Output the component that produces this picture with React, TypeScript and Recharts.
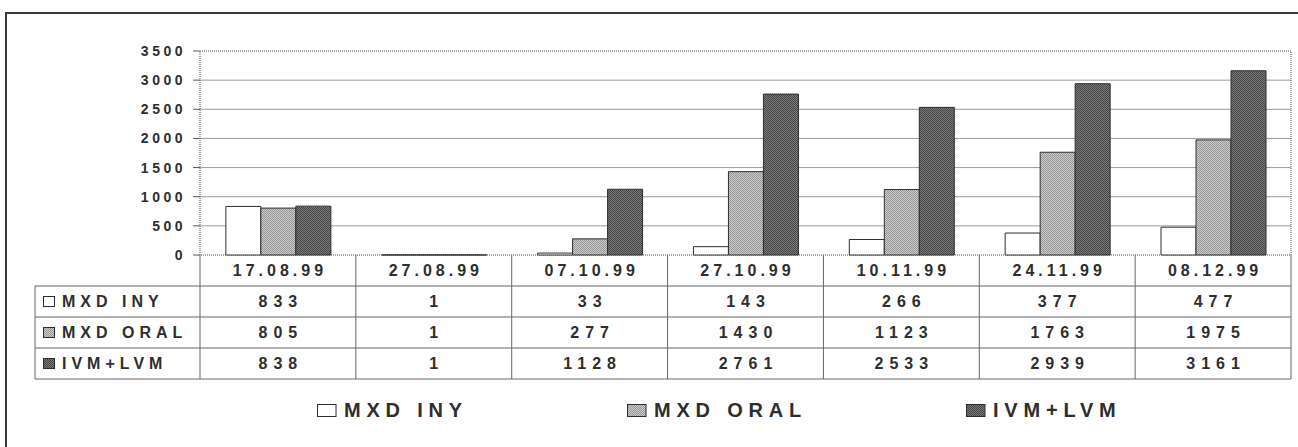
import React from 'react';
import { BarChart, Bar, XAxis, YAxis, CartesianGrid, ReferenceArea, Legend } from 'recharts';

// Survey dates and the three treatment series
const DATES = ['17.08.99', '27.08.99', '07.10.99', '27.10.99', '10.11.99', '24.11.99', '08.12.99'];
const MXD_INY = [833, 1, 33, 143, 266, 377, 477];
const MXD_ORAL = [805, 1, 277, 1430, 1123, 1763, 1975];
const IVM_LVM = [838, 1, 1128, 2761, 2533, 2939, 3161];
const Y_TICKS = [0, 500, 1000, 1500, 2000, 2500, 3000, 3500];
const GRID_VALUES = [500, 1000, 1500, 2000, 2500, 3000];

const SERIES = [
  { key: 'iny', name: 'MXD INY', values: MXD_INY, fill: '#ffffff' },
  { key: 'oral', name: 'MXD ORAL', values: MXD_ORAL, fill: 'url(#patOral)' },
  { key: 'ivm', name: 'IVM+LVM', values: IVM_LVM, fill: 'url(#patIvm)' },
];

const data = DATES.map((date, i) => ({
  date,
  iny: MXD_INY[i],
  oral: MXD_ORAL[i],
  ivm: IVM_LVM[i],
}));

// Layout
const W = 1298;
const H = 447;
const PLOT_LEFT = 200;
const PLOT_RIGHT = 1291;
const PLOT_TOP = 51;
const PLOT_BOTTOM = 255;
const Y_AXIS_W = 60;
const COL_W = (PLOT_RIGHT - PLOT_LEFT) / DATES.length;
const ROW_H = 31;
const HEADER_LEFT = 35;

const FONT = '"Liberation Sans", Arial, Helvetica, sans-serif';
const INK = '#2e2e2e';
const RULE = '#666666';

const TABLE_FS = 16;
const DATE_LS = 4;
const VALUE_LS = 6;
const HEAD_LS = 5;

function TableTick(props: any) {
  const { x, y, payload } = props;
  const i = payload.index;
  const l = x - COL_W / 2;
  const r = x + COL_W / 2;
  const bottom = y + 4 * ROW_H;
  return (
    <g>
      {i === 0 && <line x1={l} y1={y} x2={l} y2={bottom} stroke={RULE} strokeWidth={1} />}
      <line x1={r} y1={y} x2={r} y2={bottom} stroke={RULE} strokeWidth={1} />
      {[1, 2, 3, 4].map((k) => (
        <line key={k} x1={l} y1={y + k * ROW_H} x2={r} y2={y + k * ROW_H} stroke={RULE} strokeWidth={1} />
      ))}
      <text
        x={x + DATE_LS / 2}
        y={y + ROW_H / 2}
        textAnchor="middle"
        dominantBaseline="central"
        fontFamily={FONT}
        fontWeight={700}
        fontSize={TABLE_FS}
        letterSpacing={DATE_LS}
        fill={INK}
      >
        {payload.value}
      </text>
      {SERIES.map((s, k) => (
        <text
          key={s.key}
          x={x + VALUE_LS / 2}
          y={y + (k + 1.5) * ROW_H}
          textAnchor="middle"
          dominantBaseline="central"
          fontFamily={FONT}
          fontWeight={700}
          fontSize={TABLE_FS}
          letterSpacing={VALUE_LS}
          fill={INK}
        >
          {s.values[i]}
        </text>
      ))}
      {i === 0 && (
        <g>
          <line x1={HEADER_LEFT} y1={y + ROW_H} x2={HEADER_LEFT} y2={bottom} stroke={RULE} strokeWidth={1} />
          {[1, 2, 3, 4].map((k) => (
            <line key={k} x1={HEADER_LEFT} y1={y + k * ROW_H} x2={l} y2={y + k * ROW_H} stroke={RULE} strokeWidth={1} />
          ))}
          {SERIES.map((s, k) => {
            const cy = y + (k + 1.5) * ROW_H;
            return (
              <g key={s.key}>
                <rect x={43.5} y={cy - 5} width={11} height={10} fill={s.fill} stroke={INK} strokeWidth={1} />
                <text
                  x={62}
                  y={cy}
                  dominantBaseline="central"
                  fontFamily={FONT}
                  fontWeight={700}
                  fontSize={TABLE_FS}
                  letterSpacing={HEAD_LS}
                  fill={INK}
                >
                  {s.name}
                </text>
              </g>
            );
          })}
        </g>
      )}
    </g>
  );
}

function LegendContent() {
  return (
    <div style={{ display: 'flex', alignItems: 'center', paddingLeft: 317, gap: 159 }}>
      {SERIES.map((s) => (
        <div key={s.key} style={{ display: 'flex', alignItems: 'center' }}>
          <svg width={20} height={13} style={{ display: 'block' }}>
            <rect x={0.5} y={0.5} width={18.5} height={12} fill={s.fill} stroke={INK} strokeWidth={1} />
          </svg>
          <span
            style={{
              marginLeft: 7,
              fontFamily: FONT,
              fontWeight: 700,
              fontSize: 20,
              letterSpacing: 5.8,
              color: INK,
              lineHeight: '20px',
              whiteSpace: 'nowrap',
            }}
          >
            {s.name}
          </span>
        </div>
      ))}
    </div>
  );
}

export default function App() {
  return (
    <div style={{ position: 'fixed', left: 0, top: 0, width: W, height: H, overflow: 'hidden', background: '#ffffff' }}>
      <div
        style={{
          position: 'absolute',
          left: 5,
          top: 12,
          width: W,
          height: H,
          borderLeft: '2px solid #3a3a3a',
          borderTop: '2px solid #3a3a3a',
        }}
      />
      <div style={{ position: 'absolute', left: 0, top: 0 }}>
        <BarChart
          width={W}
          height={H}
          data={data}
          margin={{ top: PLOT_TOP, right: W - PLOT_RIGHT, left: PLOT_LEFT - Y_AXIS_W, bottom: 0 }}
          barCategoryGap="16.6%"
          barGap={0}
        >
          <defs>
            <pattern id="patOral" width={2} height={2} patternUnits="userSpaceOnUse">
              <rect width={2} height={2} fill="#cacaca" />
              <rect x={0} y={0} width={1} height={1} fill="#989898" />
              <rect x={1} y={1} width={1} height={1} fill="#989898" />
            </pattern>
            <pattern id="patIvm" width={2} height={2} patternUnits="userSpaceOnUse">
              <rect width={2} height={2} fill="#7a7a7a" />
              <rect x={0} y={0} width={1} height={1} fill="#464646" />
              <rect x={1} y={1} width={1} height={1} fill="#464646" />
            </pattern>
          </defs>
          <CartesianGrid vertical={false} horizontalValues={GRID_VALUES} stroke="#9a9a9a" strokeWidth={1} />
          <XAxis
            dataKey="date"
            height={H - PLOT_BOTTOM}
            axisLine={false}
            tickLine={false}
            tickSize={0}
            tickMargin={0}
            interval={0}
            tick={<TableTick />}
          />
          <YAxis
            width={Y_AXIS_W}
            domain={[0, 3500]}
            ticks={Y_TICKS}
            interval={0}
            axisLine={false}
            tickLine={{ stroke: '#555555' }}
            tickSize={7}
            tickMargin={7}
            tick={{ fontFamily: FONT, fontWeight: 700, fontSize: 14, fill: INK, letterSpacing: 3.5 }}
          />
          <ReferenceArea
            y1={0}
            y2={3500}
            fill="none"
            fillOpacity={0}
            stroke="#555555"
            strokeWidth={1}
            strokeDasharray="1 1"
            ifOverflow="visible"
          />
          {SERIES.map((s) => (
            <Bar
              key={s.key}
              dataKey={s.key}
              name={s.name}
              fill={s.fill}
              stroke={INK}
              strokeWidth={1}
              isAnimationActive={false}
            />
          ))}
          <Legend
            layout="horizontal"
            verticalAlign="middle"
            align="center"
            content={<LegendContent />}
            wrapperStyle={{ top: 400, left: 0, width: W }}
          />
        </BarChart>
      </div>
    </div>
  );
}
